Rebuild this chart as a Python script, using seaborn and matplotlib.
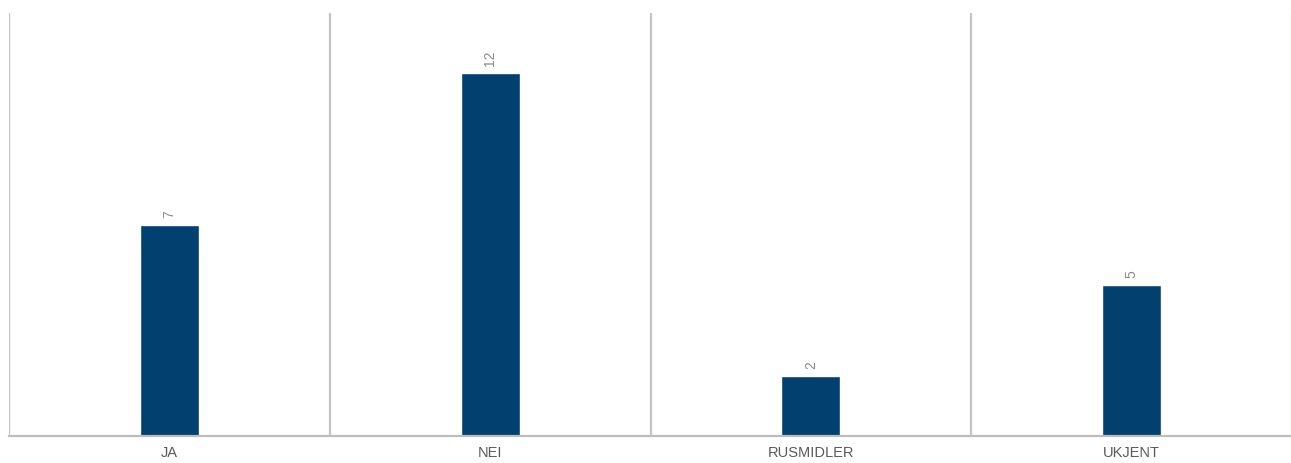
import numpy as np
import pandas as pd
import matplotlib
matplotlib.use("Agg")
import matplotlib.pyplot as plt
import seaborn as sns

categories = ["JA", "NEI", "RUSMIDLER", "UKJENT"]
values = [7, 12, 2, 5]

df = pd.DataFrame({"kategori": categories, "antall": values})

sns.set_style("white")
plt.rcParams["font.family"] = ["Liberation Sans", "DejaVu Sans"]

fig = plt.figure(figsize=(12.91, 4.63), dpi=100)
ax = fig.add_axes([9 / 1291, 27 / 463, 1283 / 1291, 423 / 463])

sns.barplot(data=df, x="kategori", y="antall", color="#02416f",
            width=0.184, saturation=1, ax=ax)

ax.set_xlim(-0.5, len(categories) - 0.5)
ax.set_ylim(0, 14)

# vertical separators between categories
ax.set_xticks(np.arange(-0.5, len(categories), 1.0), minor=True)
ax.grid(True, which="minor", axis="x", color="#c4c4c4", linewidth=1.6)
ax.grid(False, which="major")
ax.set_axisbelow(True)

for side in ["top", "right", "left"]:
    ax.spines[side].set_visible(False)
ax.spines["bottom"].set_color("#bdbdbd")
ax.spines["bottom"].set_linewidth(1.6)

ax.set_yticks([])
ax.tick_params(axis="x", which="both", length=0, pad=7,
               labelsize=10.5, labelcolor="#5a5a5a")
for lbl in ax.get_xticklabels():
    lbl.set_fontweight("medium")
ax.set_xlabel("")
ax.set_ylabel("")

for c in ax.containers:
    ax.bar_label(c, padding=5, rotation=90, fontsize=10, color="#8a8a8a")

fig.savefig("out.png", dpi=100)
